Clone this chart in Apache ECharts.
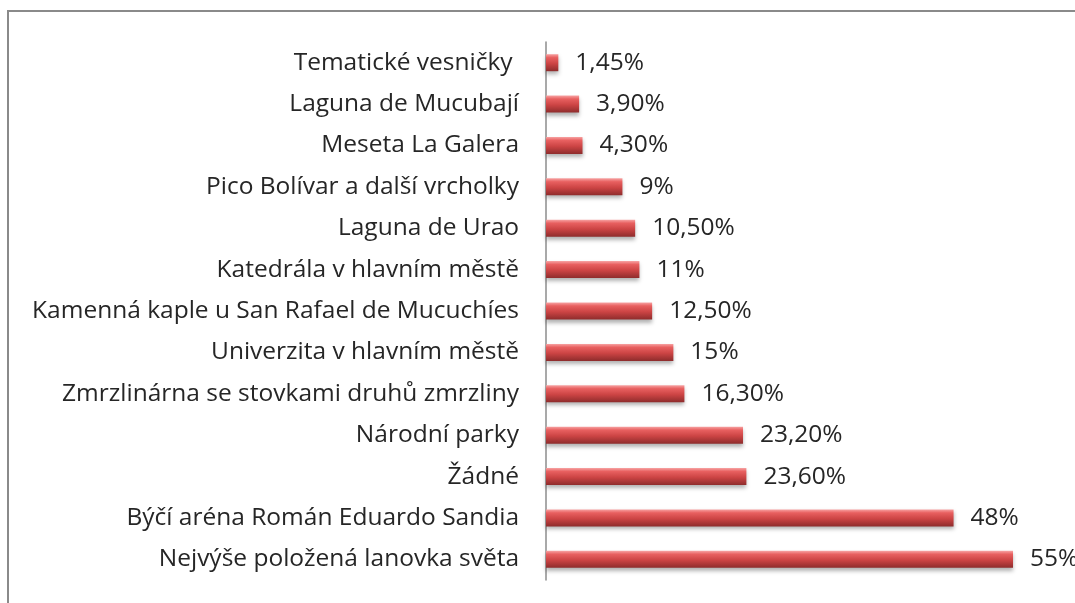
<!DOCTYPE html>
<html>
<head>
<meta charset="utf-8">
<script src="https://cdn.jsdelivr.net/npm/echarts@6/dist/echarts.min.js"></script>
<style>
html,body{margin:0;padding:0;background:#fff;}
#main{width:1075px;height:603px;}
</style>
</head>
<body>
<div id="main"></div>
<script>
let categories = ['Tematické vesničky ', 'Laguna de Mucubají', 'Meseta La Galera', 'Pico Bolívar a další vrcholky',
    'Laguna de Urao', 'Katedrála v hlavním městě', 'Kamenná kaple u San Rafael de Mucuchíes',
    'Univerzita v hlavním městě', 'Zmrzlinárna se stovkami druhů zmrzliny', 'Národní parky', 'Žádné',
    'Býčí aréna Román Eduardo Sandia', 'Nejvýše položená lanovka světa'];
let values = [1.45, 3.9, 4.3, 9, 10.5, 11, 12.5, 15, 16.3, 23.2, 23.6, 48, 55];
let valueLabels = ['1,45%', '3,90%', '4,30%', '9%', '10,50%', '11%', '12,50%', '15%', '16,30%', '23,20%', '23,60%', '48%', '55%'];

let myChart = echarts.init(document.getElementById("main"));
let option = {
    animation:false,
    textStyle:{fontFamily:'Open Sans'},
    grid:{left:546, right:62, top:42, bottom:23},
    xAxis:{
        type:'value',
        min:0,
        max:55,
        show:false
    },
    yAxis:{
        type:'category',
        inverse:true,
        data:categories,
        axisLine:{lineStyle:{color:'#8c8c8c', width:1.5}},
        axisTick:{show:false},
        axisLabel:{color:'#262626', fontSize:24.5, margin:27}
    },
    series:[{
        type:'bar',
        data:values,
        barWidth:17,
        itemStyle:{
            color:new echarts.graphic.LinearGradient(0,0,0,1,[
                {offset:0, color:'#f7a3a3'},
                {offset:0.2, color:'#e86060'},
                {offset:0.55, color:'#cc4444'},
                {offset:1, color:'#8e2c2c'}
            ]),
            shadowColor:'rgba(0,0,0,0.3)',
            shadowBlur:4,
            shadowOffsetY:3
        },
        label:{
            show:true,
            position:'right',
            distance:17,
            color:'#262626',
            fontSize:24.5,
            formatter:function (p) { return valueLabels[p.dataIndex]; }
        }
    }],
    graphic:[{
        type:'rect',
        shape:{x:8, y:11, width:1200, height:800},
        style:{fill:'none', stroke:'#8a8a8a', lineWidth:2},
        silent:true
    }]
};
myChart.setOption(option);
</script>
</body>
</html>
